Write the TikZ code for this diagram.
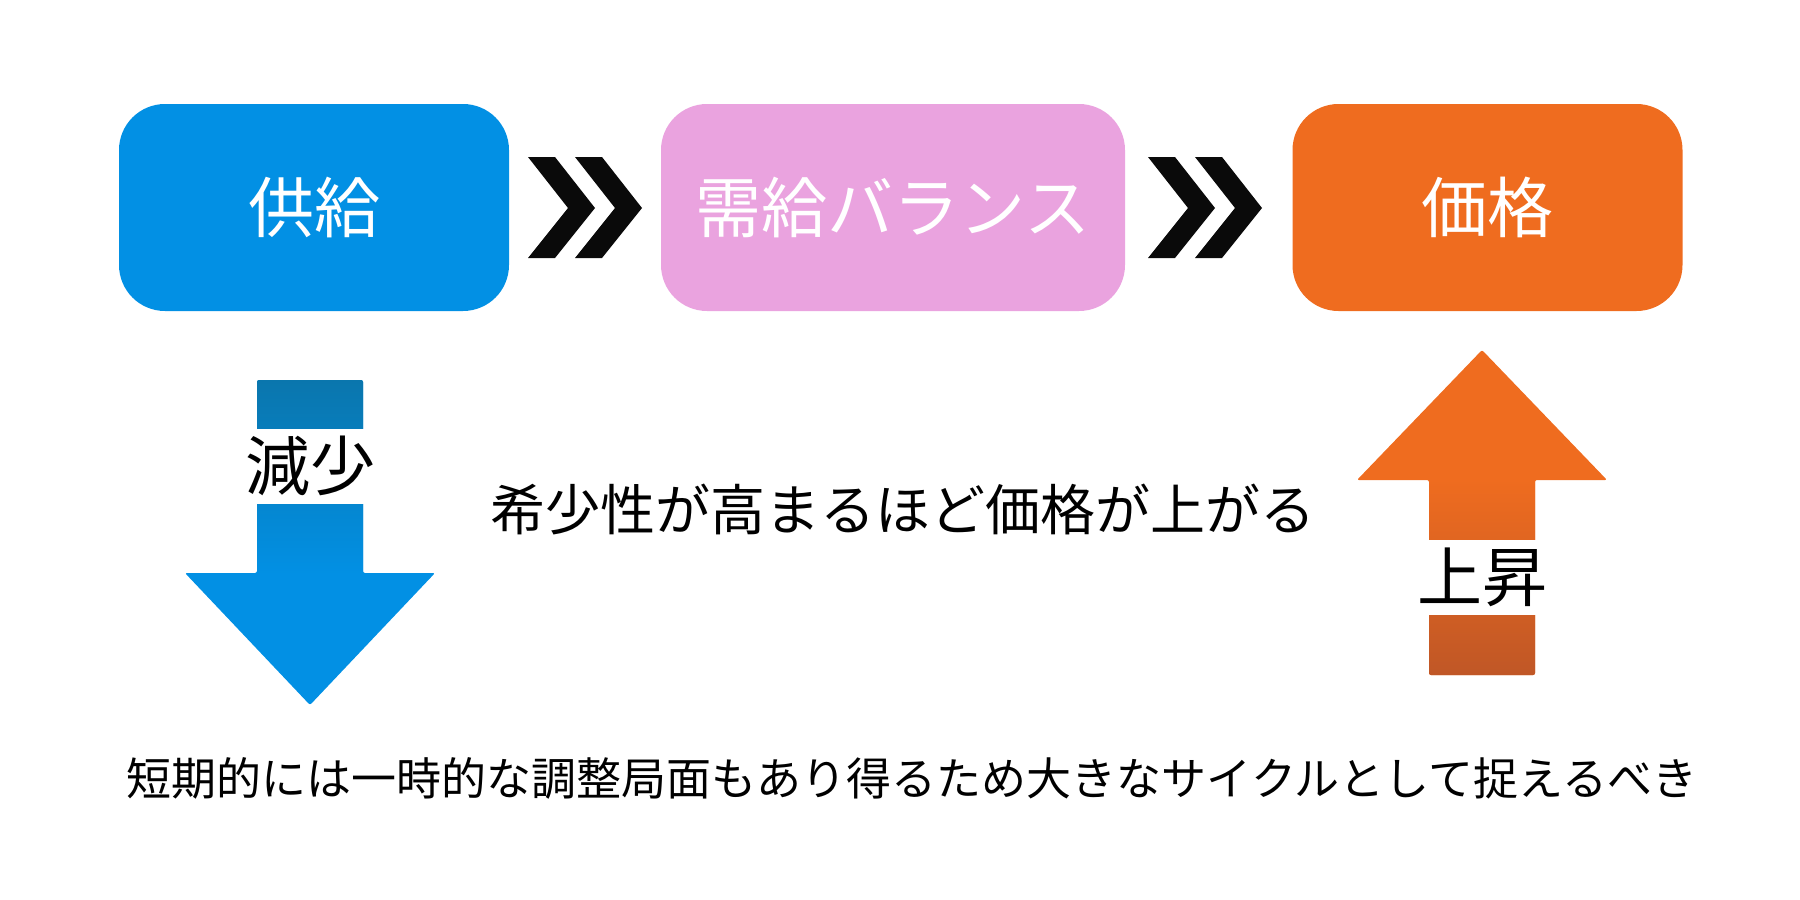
\documentclass[tikz,border=0pt]{standalone}
\usepackage{fontspec}
\newfontfamily\jp{Noto Sans CJK JP}
\definecolor{cblue}{HTML}{0290E4}
\definecolor{cbluedark}{HTML}{0A76AD}
\definecolor{cpink}{HTML}{EAA3DF}
\definecolor{corange}{HTML}{EF6C1F}
\definecolor{corangedark}{HTML}{C05726}
\definecolor{cchev}{HTML}{0A0A0A}
\tikzset{
  box/.style={rounded corners=46pt, minimum width=390pt, minimum height=207pt, inner sep=0pt,
    text=white, font=\jp\fontsize{66}{72}\selectfont},
  gaplabel/.style={fill=white, minimum width=112pt, minimum height=75pt, inner sep=0pt,
    text=black, font=\jp\fontsize{65}{70}\selectfont},
  chev/.style={fill=cchev},
  plain/.style={text=black, inner sep=0pt}
}
\begin{document}
\begin{tikzpicture}[x=1pt,y=-1pt]
\useasboundingbox (0,0) rectangle (1800,900);
% boxes
\node[box, fill=cblue] (supply) at (314,207.5) {供給};
\node[box, fill=cpink, minimum width=464pt] (balance) at (893,207.5) {需給バランス};
\node[box, fill=corange] (price) at (1487.5,207.5) {価格};
% chevrons
\foreach \sx in {528,575,1148,1195}{
  \fill[chev] (\sx,157) -- ++(27,0) -- ++(40,51) -- ++(-40,50) -- ++(-27,0) -- ++(40,-50) -- cycle;
}
% down arrow (blue)
\fill[cblue, rounded corners=2pt] (257,380) -- (363,380) -- (363,573) -- (435,573) -- (310,705) -- (185,573) -- (257,573) -- cycle;
\shade[top color=cbluedark, bottom color=cblue, rounded corners=2pt] (257,380) rectangle (363,574);
\node[gaplabel] (down) at (310,466) {減少};
% up arrow (orange)
\fill[corange, rounded corners=2pt] (1482,350) -- (1607,480) -- (1535,480) -- (1535,675) -- (1429,675) -- (1429,480) -- (1357,480) -- cycle;
\shade[top color=corange, bottom color=corangedark, rounded corners=2pt] (1429,479) rectangle (1535,675);
\node[gaplabel] (up) at (1482,577) {上昇};
% texts
\node[plain, font=\jp\fontsize{55}{60}\selectfont] (mid) at (903,509) {希少性が高まるほど価格が上がる};
\node[plain, font=\jp\fontsize{45}{50}\selectfont] (note) at (912,778) {短期的には一時的な調整局面もあり得るため大きなサイクルとして捉えるべき};
\end{tikzpicture}
\end{document}
